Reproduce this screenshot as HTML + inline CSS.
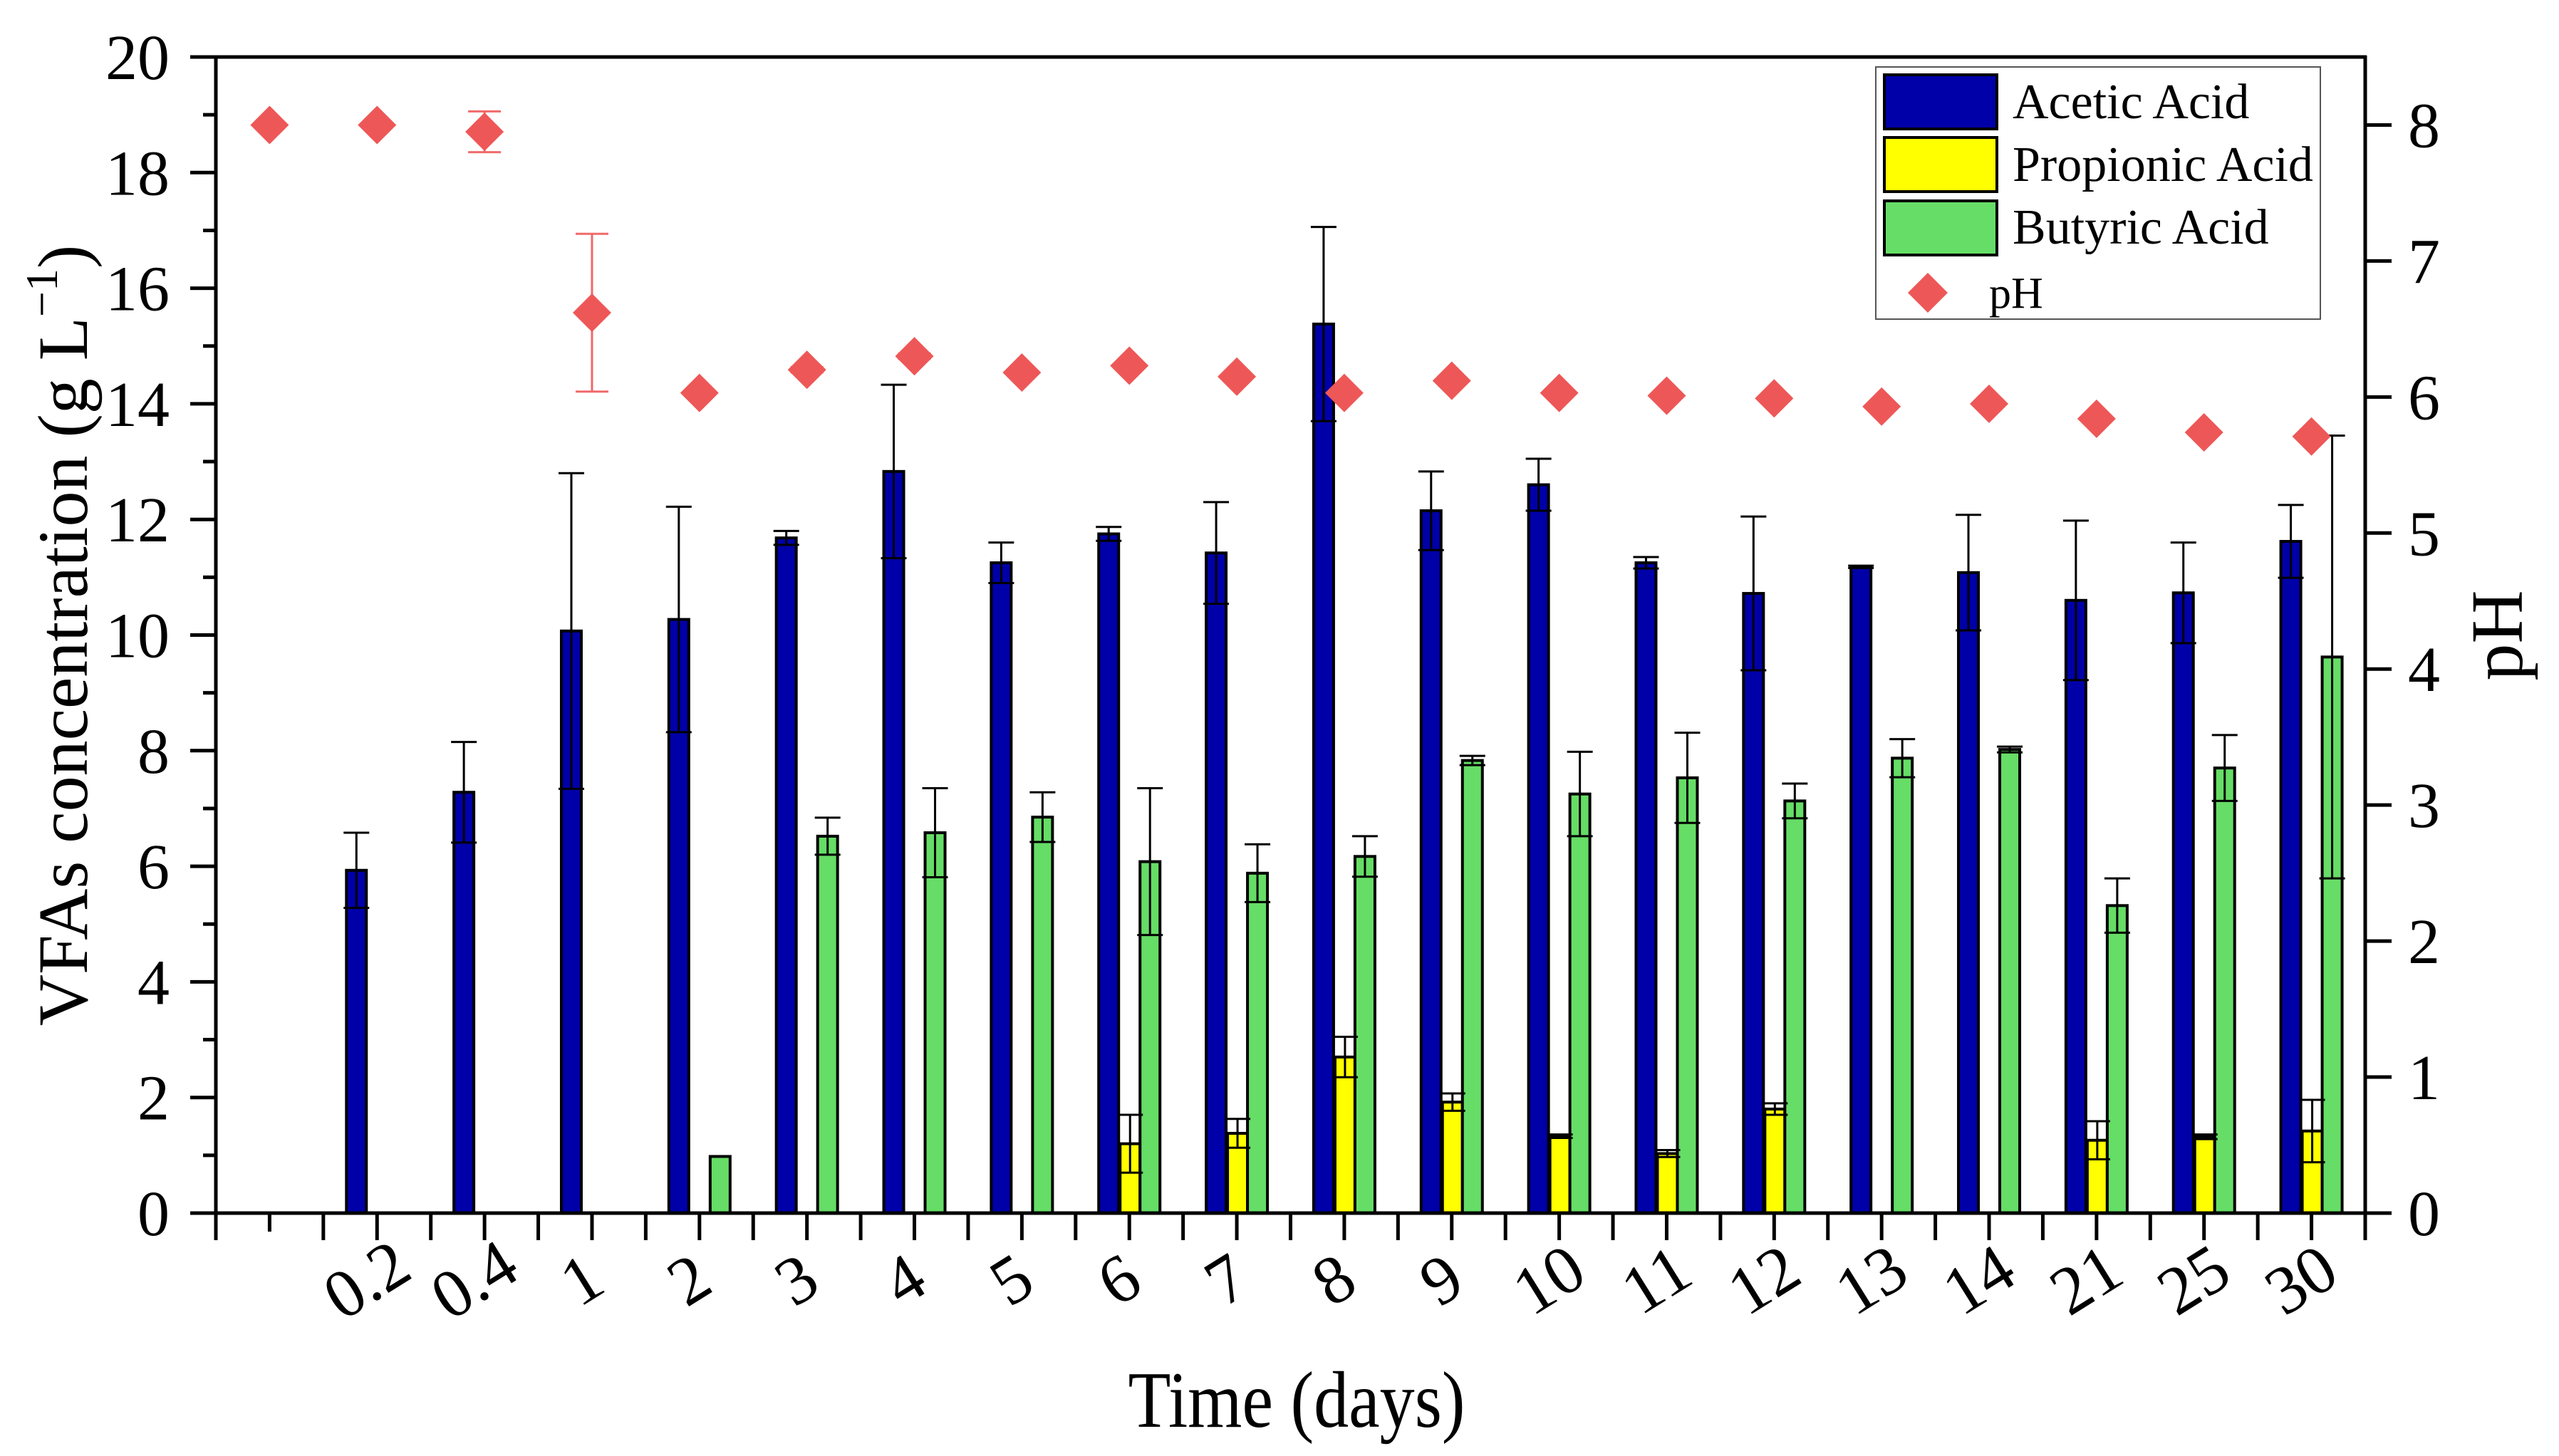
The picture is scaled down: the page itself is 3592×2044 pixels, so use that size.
<!DOCTYPE html>
<html><head><meta charset="utf-8"><style>
html,body{margin:0;padding:0;background:#fff;}
svg{display:block;font-family:"Liberation Serif",serif;}
</style></head><body>
<svg id="chart" width="3592" height="2044" viewBox="0 0 3592 2044" xmlns="http://www.w3.org/2000/svg" font-family="Liberation Serif, serif">
<rect width="3592" height="2044" fill="#fff"/>
<g id="plot"></g>
</svg>
<script>
const categories = ["", "0.2", "0.4", "1", "2", "3", "4", "5", "6", "7", "8", "9", "10", "11", "12", "13", "14", "21", "25", "30"];
const acetic = [0, 5.93, 7.28, 10.07, 10.27, 11.68, 12.83, 11.25, 11.75, 11.42, 15.38, 12.15, 12.6, 11.25, 10.72, 11.18, 11.08, 10.6, 10.73, 11.62];
const aceticErr = [0, 0.65, 0.87, 2.73, 1.95, 0.12, 1.5, 0.35, 0.12, 0.88, 1.68, 0.68, 0.45, 0.1, 1.33, 0.02, 1.0, 1.38, 0.87, 0.63];
const propionic = [0, 0, 0, 0, 0, 0, 0, 0, 1.2, 1.38, 2.7, 1.92, 1.33, 1.03, 1.8, 0, 0, 1.26, 1.32, 1.42];
const propionicErr = [0, 0, 0, 0, 0, 0, 0, 0, 0.5, 0.25, 0.35, 0.15, 0.03, 0.06, 0.1, 0, 0, 0.33, 0.04, 0.54];
const butyric = [0, 0, 0, 0, 0.98, 6.52, 6.58, 6.85, 6.08, 5.88, 6.17, 7.83, 7.25, 7.53, 7.13, 7.87, 8.02, 5.32, 7.7, 9.62];
const butyricErr = [0, 0, 0, 0, 0, 0.32, 0.77, 0.43, 1.27, 0.5, 0.35, 0.08, 0.73, 0.78, 0.3, 0.33, 0.05, 0.47, 0.57, 3.83];
const ph = [8.0, 8.0, 7.95, 6.62, 6.03, 6.2, 6.3, 6.18, 6.23, 6.15, 6.03, 6.12, 6.03, 6.01, 5.99, 5.93, 5.95, 5.84, 5.74, 5.71];
const phErr = [0, 0, 0.15, 0.58, 0, 0.02, 0.02, 0, 0, 0, 0, 0, 0, 0, 0, 0, 0, 0, 0, 0];
const leftTicks = ["0","2","4","6","8","10","12","14","16","18","20"];
const rightTicks = ["0","1","2","3","4","5","6","7","8"];

const NS = "http://www.w3.org/2000/svg";
const g = document.getElementById("plot");
const X0 = 303, X1 = 3320, YT = 80, YB = 1703;
const catW = (X1 - X0) / categories.length;
const FF = "Liberation Serif, serif";
function xc(i){ return X0 + catW * (i + 0.5); }
function yL(v){ return YB - (YB - YT) * v / 20; }
function yR(v){ return YB - (YB - YT) * v / 8.5; }
function mk(tag, attrs, parent){
  const e = document.createElementNS(NS, tag);
  for (const k in attrs) e.setAttribute(k, attrs[k]);
  (parent || g).appendChild(e);
  return e;
}

const series = [
  {vals: acetic, errs: aceticErr, off: -43, fill: "#0000a8", name: "acetic"},
  {vals: propionic, errs: propionicErr, off: -13, fill: "#ffff00", name: "propionic"},
  {vals: butyric, errs: butyricErr, off: 15, fill: "#66dd66", name: "butyric"}
];
const bw = 28;
series.forEach(s => {
  s.vals.forEach((v, i) => {
    if (v <= 0) return;
    const x = xc(i) + s.off;
    const r = mk("rect",{x:x, y:yL(v), width:bw, height:YB - yL(v), fill:s.fill, stroke:"#000", "stroke-width":4});
    
    
  });
});
series.forEach(s => {
  s.vals.forEach((v, i) => {
    const e = s.errs[i];
    if (v <= 0 || e <= 0) return;
    const cx = xc(i) + s.off + bw/2;
    const eg = mk("g",{});
    
    
    mk("line",{x1:cx,y1:yL(v+e),x2:cx,y2:yL(v-e),stroke:"#000","stroke-width":3},eg);
    mk("line",{x1:cx-18,y1:yL(v+e),x2:cx+18,y2:yL(v+e),stroke:"#000","stroke-width":3},eg);
    mk("line",{x1:cx-18,y1:yL(v-e),x2:cx+18,y2:yL(v-e),stroke:"#000","stroke-width":3},eg);
  });
});
ph.forEach((v, i) => {
  const cx = xc(i), cy = yR(v), e = phErr[i];
  if (e > 0) {
    const eg = mk("g",{});
    
    
    mk("line",{x1:cx,y1:yR(v+e),x2:cx,y2:yR(v-e),stroke:"#f06a6a","stroke-width":3},eg);
    mk("line",{x1:cx-23,y1:yR(v+e),x2:cx+23,y2:yR(v+e),stroke:"#f06a6a","stroke-width":3},eg);
    mk("line",{x1:cx-23,y1:yR(v-e),x2:cx+23,y2:yR(v-e),stroke:"#f06a6a","stroke-width":3},eg);
  }
  const d = mk("polygon",{points:`${cx},${cy-27} ${cx+27},${cy} ${cx},${cy+27} ${cx-27},${cy}`, fill:"#ee5757"});
  
  
});

const ax = mk("g",{});


mk("line",{x1:267,y1:YT,x2:X1+2,y2:YT,stroke:"#000","stroke-width":5},ax);
mk("line",{x1:X0,y1:YT-2,x2:X0,y2:YB+38,stroke:"#000","stroke-width":5},ax);
mk("line",{x1:X1,y1:YT-2,x2:X1,y2:YB+38,stroke:"#000","stroke-width":5},ax);
mk("line",{x1:267,y1:YB,x2:3357,y2:YB,stroke:"#000","stroke-width":5},ax);
for (let v = 0; v <= 20; v++) {
  const y = yL(v);
  const major = v % 2 === 0;
  mk("line",{x1: major ? 267 : 285, y1:y, x2:X0, y2:y, stroke:"#000","stroke-width":5},ax);
}
leftTicks.forEach(t => {
  const tx = mk("text",{x:238, y:yL(+t)+31, "text-anchor":"end", "font-size":90, "font-family":FF, fill:"#000"});
  tx.textContent = t;
  
  
});
rightTicks.forEach(t => {
  const y = yR(+t);
  mk("line",{x1:X1, y1:y, x2:3357, y2:y, stroke:"#000","stroke-width":5},ax);
  const tx = mk("text",{x:3380, y:y+31, "font-size":90, "font-family":FF, fill:"#000"});
  tx.textContent = t;
  
  
});
for (let k = 1; k < categories.length * 2; k++) {
  const x = X0 + catW * k / 2;
  mk("line",{x1:x, y1:YB, x2:x, y2:YB + (k === 1 ? 26 : 38), stroke:"#000","stroke-width":5},ax);
}
categories.forEach((c, i) => {
  if (!c) return;
  const x = xc(i) - 15, y = 1796;
  const tx = mk("text",{x:x, y:y, "text-anchor":"middle", "dominant-baseline":"central", "font-size":96, "font-family":FF, fill:"#000", transform:`rotate(-32 ${x} ${y})`});
  tx.textContent = c;
  
  
});
</script>
<svg style="position:absolute;left:0;top:0" width="3592" height="2044" viewBox="0 0 3592 2044" xmlns="http://www.w3.org/2000/svg" font-family="Liberation Serif, serif">
  <text x="1820" y="2003" text-anchor="middle" font-size="112" textLength="473" lengthAdjust="spacingAndGlyphs">Time (days)</text>
  <text transform="translate(122 892) rotate(-90)" text-anchor="middle" font-size="100">VFAs concentration (g L<tspan font-size="64" dy="-42">−1</tspan><tspan dy="42">)</tspan></text>
  <text transform="translate(3540 892) rotate(-90)" text-anchor="middle" font-size="104">pH</text>
  <g>
    <rect x="2633" y="94" width="624" height="354" fill="#fff" stroke="#555" stroke-width="2"/>
    <rect x="2645" y="105" width="158" height="76" fill="#0000a8" stroke="#000" stroke-width="4"/>
    <rect x="2645" y="193" width="158" height="76" fill="#ffff00" stroke="#000" stroke-width="4"/>
    <rect x="2645" y="282" width="158" height="76" fill="#66dd66" stroke="#000" stroke-width="4"/>
    <polygon points="2706,383 2734,411 2706,439 2678,411" fill="#ee5757"/>
    <text x="2825" y="166" font-size="70">Acetic Acid</text>
    <text x="2825" y="254" font-size="70">Propionic Acid</text>
    <text x="2825" y="342" font-size="70">Butyric Acid</text>
    <text x="2792" y="432" font-size="62">pH</text>
  </g>
</svg>
</body></html>
